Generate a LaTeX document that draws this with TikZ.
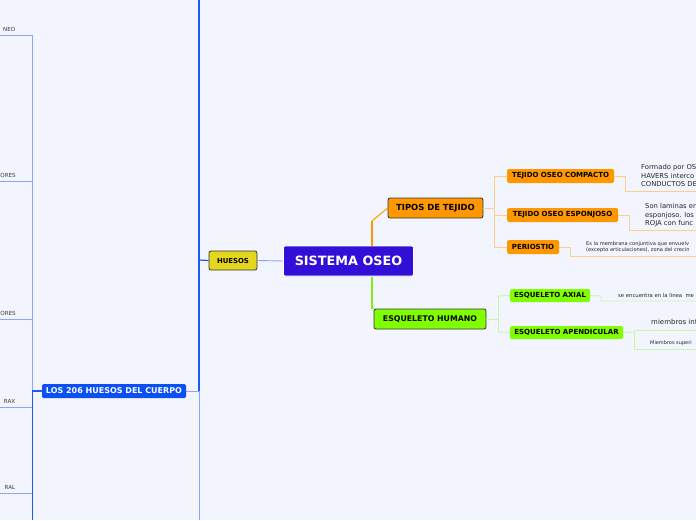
\documentclass[tikz,border=0pt]{standalone}
\usepackage{fontspec}
\setmainfont{DejaVu Sans}
\definecolor{bgc}{RGB}{242,245,254}
\definecolor{dblue}{RGB}{30,90,240}
\definecolor{lblue}{RGB}{135,165,255}
\definecolor{losc}{RGB}{10,80,245}
\definecolor{huesc}{RGB}{228,214,30}
\definecolor{sisc}{RGB}{50,15,215}
\definecolor{orc}{RGB}{255,152,0}
\definecolor{lorc}{RGB}{255,205,140}
\definecolor{grc}{RGB}{128,255,0}
\definecolor{mgrc}{RGB}{135,235,20}
\definecolor{lgrc}{RGB}{205,245,165}
\definecolor{txc}{RGB}{60,60,60}
\tikzset{
  mainbox/.style={rectangle, rounded corners=2pt, draw=black!80, line width=0.8pt, inner sep=0pt, font=\bfseries},
  subbox/.style={rectangle, rounded corners=1.5pt, inner sep=0pt, font=\bfseries\fontsize{7}{8}\selectfont},
  desc/.style={anchor=north west, inner sep=0pt, align=left, text=black!85},
  leftlbl/.style={anchor=south east, inner sep=0pt, text=txc, font=\fontsize{5.6}{7}\selectfont},
}
\begin{document}
\begin{tikzpicture}[x=1pt,y=-1pt]
\useasboundingbox (0,0) rectangle (696,520);
\fill[bgc] (0,0) rectangle (696,520);
\clip (0,0) rectangle (696,520);

% coordinates of left structure
\coordinate (vtop) at (199,0);
\coordinate (vlos) at (199,391);
\coordinate (vbot) at (199,520);
\coordinate (lt) at (32,35);
\coordinate (lb) at (32,520);
\coordinate (l1) at (0,35);
\coordinate (l2) at (0,181);
\coordinate (l2r) at (32,181);
\coordinate (l3) at (0,319);
\coordinate (l3r) at (32,319);
\coordinate (l4) at (0,407);
\coordinate (l4r) at (32,407);
\coordinate (l5) at (0,493);
\coordinate (l5r) at (32,493);
\coordinate (llos) at (32,391);
\coordinate (vhue) at (199,260);

% left lines
\draw[lblue, line width=0.9pt] (l1) -- (lt) -- (llos);
\draw[dblue, line width=0.9pt] (llos) -- (lb);
\draw[lblue, line width=0.9pt] (l2) -- (l2r);
\draw[lblue, line width=0.9pt] (l3) -- (l3r);
\draw[lblue, line width=0.9pt] (l4) -- (l4r);
\draw[lblue, line width=0.9pt] (l5) -- (l5r);
\draw[dblue, line width=1.2pt] (vtop) -- (vlos);
\draw[lblue, line width=1pt] (vlos) -- (vbot);

\node[leftlbl] (t1) at (15.5,31.5) {NEO};
\node[leftlbl] (t2) at (16,177.5) {ORES};
\node[leftlbl] (t3) at (16,315.5) {ORES};
\node[leftlbl] (t4) at (15.5,403.5) {RAX};
\node[leftlbl] (t5) at (15.5,489.5) {RAL};

% main nodes
\node[subbox, fill=losc, text=white, minimum width=144pt, minimum height=14pt, font=\bfseries\fontsize{8}{9}\selectfont] (los) at (114,391) {LOS 206 HUESOS DEL CUERPO};
\draw[dblue, line width=1.2pt] (llos) -- (los.west);
\draw[lblue, line width=0.9pt] (los.east) -- (vlos);

\node[mainbox, fill=huesc, minimum width=48pt, minimum height=19pt, font=\bfseries\fontsize{6.9}{8}\selectfont] (hue) at (233,260.5) {HUESOS};
\draw[dblue, line width=1.2pt] (vhue) -- (hue.west);

\node[rectangle, rounded corners=2pt, fill=sisc, draw=white, line width=0.6pt, text=white, minimum width=130pt, minimum height=30pt, font=\bfseries\fontsize{12.8}{14}\selectfont] (sis) at (348.5,261) {SISTEMA OSEO};
\draw[lblue, line width=0.9pt] (hue.east) -- (sis.west);

\node[mainbox, fill=orc, minimum width=95pt, minimum height=20pt, font=\bfseries\fontsize{8.4}{9}\selectfont] (tip) at (435.5,208) {TIPOS DE TEJIDO};
\node[mainbox, fill=grc, minimum width=112pt, minimum height=20pt, font=\bfseries\fontsize{7.8}{9}\selectfont] (esq) at (430,319) {ESQUELETO HUMANO};

\coordinate (so1) at (372,246);
\coordinate (so2) at (372,221);
\coordinate (sg1) at (372,277);
\coordinate (sg2) at (372,308);
\draw[orc, line width=1.8pt] (so1) -- (so2);
\draw[orc, line width=1pt] (so2) -- (tip.west);
\draw[mgrc, line width=1.8pt] (sg1) -- (sg2) -- (esq.north west);

% tejido children
\node[subbox, fill=orc, minimum width=107pt, minimum height=14pt] (comp) at (560.5,176) {TEJIDO OSEO COMPACTO};
\node[subbox, fill=orc, minimum width=111pt, minimum height=14pt] (espo) at (562.5,215) {TEJIDO OSEO ESPONJOSO};
\node[subbox, fill=orc, minimum width=52pt, minimum height=14pt] (peri) at (533,247) {PERIOSTIO};

\coordinate (tv) at (494,208);
\coordinate (tv1) at (494,176);
\coordinate (tv3) at (494,247);
\draw[lorc, line width=0.9pt] (tip.east) -- (tv);
\draw[lorc, line width=0.9pt] (tv1) -- (tv3);
\draw[lorc, line width=0.9pt] (tv1) -- (comp.west);
\draw[lorc, line width=0.9pt] (494,215) -- (espo.west);
\draw[lorc, line width=0.9pt] (tv3) -- (peri.west);

\coordinate (c1) at (625,176);
\coordinate (c2) at (625,191);
\coordinate (c3) at (696,191);
\draw[lorc, line width=0.9pt] (comp.east) -- (c1) -- (c2) -- (c3);
\node[desc, font=\fontsize{6.8}{8.2}\selectfont] (dcomp) at (641,164.5) {Formado por OS\\HAVERS interco\\CONDUCTOS DE};

\coordinate (e1) at (629,215);
\coordinate (e2) at (629,230);
\coordinate (e3) at (696,230);
\draw[lorc, line width=0.9pt] (espo.east) -- (e1) -- (e2) -- (e3);
\node[desc, font=\fontsize{6.8}{8.2}\selectfont] (despo) at (645,203.5) {Son laminas en\\esponjoso. los\\ROJA con func};

\coordinate (p1) at (570,247);
\coordinate (p2) at (570,256);
\coordinate (p3) at (696,256);
\draw[lorc, line width=0.9pt] (peri.east) -- (p1) -- (p2) -- (p3);
\node[desc, font=\fontsize{5.1}{6.2}\selectfont] (dperi) at (586,241) {Es la membrana conjuntiva que envuelv\\(excepto articulaciones), zona del crecin};

% esqueleto children
\node[subbox, fill=grc, minimum width=80pt, minimum height=13pt] (axi) at (550,295.5) {ESQUELETO AXIAL};
\node[subbox, fill=grc, minimum width=113pt, minimum height=13pt] (ape) at (566.5,332.5) {ESQUELETO APENDICULAR};

\coordinate (gv1) at (498,296);
\coordinate (gv2) at (498,332);
\draw[lgrc, line width=0.9pt] (esq.east) -- (498,319);
\draw[lgrc, line width=0.9pt] (gv1) -- (gv2);
\draw[lgrc, line width=0.9pt] (gv1) -- (axi.west);
\draw[lgrc, line width=0.9pt] (gv2) -- (ape.west);

\coordinate (a1) at (601,296);
\coordinate (a2) at (601,301);
\coordinate (a3) at (696,301);
\draw[lgrc, line width=0.9pt] (axi.east) -- (a1) -- (a2) -- (a3);
\node[desc, font=\fontsize{5.3}{6}\selectfont] (daxi) at (618,293) {se encuentra en la linea \ me};

\coordinate (b1) at (634,332);
\coordinate (b2) at (634,330);
\coordinate (b3) at (634,349);
\coordinate (b4) at (696,330);
\coordinate (b5) at (696,349);
\draw[lgrc, line width=0.9pt] (ape.east) -- (b1);
\draw[lgrc, line width=0.9pt] (b4) -- (b2) -- (b3) -- (b5);
\node[desc, font=\fontsize{7}{8}\selectfont] (dinf) at (651,319) {miembros inf};
\node[desc, font=\fontsize{5}{6}\selectfont] (dsup) at (650,340.5) {Miembros superi};
\end{tikzpicture}
\end{document}
